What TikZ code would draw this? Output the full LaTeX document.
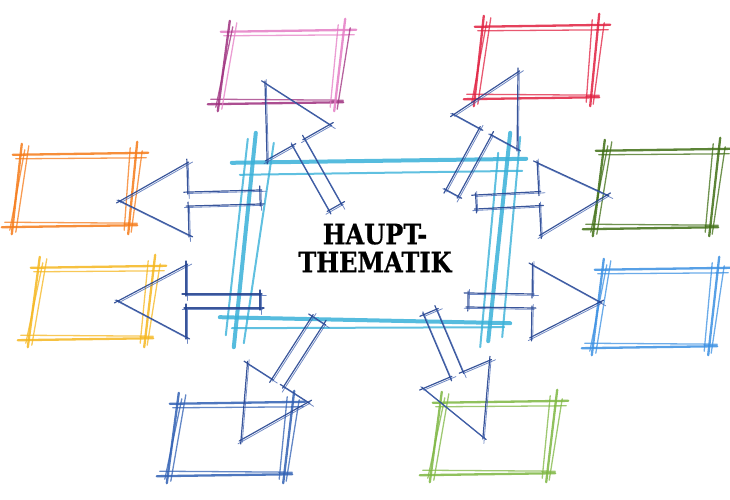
\documentclass[tikz,border=0pt]{standalone}
\usepackage{fontspec}
\usetikzlibrary{calc}
\newfontfamily\hfont{DejaVu Serif}[FakeStretch=0.86,FakeBold=0.6]
\definecolor{pinkA}{HTML}{E47CC4}
\definecolor{pinkB}{HTML}{9E2F7E}
\definecolor{redA}{HTML}{E02040}
\definecolor{orangeA}{HTML}{F57A18}
\definecolor{yellowA}{HTML}{F5B61E}
\definecolor{dkgreenA}{HTML}{3F6E14}
\definecolor{blueA}{HTML}{3A8FE2}
\definecolor{dkblueA}{HTML}{2F5FB3}
\definecolor{greenA}{HTML}{7DB641}
\definecolor{cyanA}{HTML}{38B0D8}
\definecolor{navyA}{HTML}{24438F}
\definecolor{navyB}{HTML}{4263B0}
\tikzset{
  boxnode/.style={rectangle, inner sep=0pt, minimum width=116pt, minimum height=72pt},
  bx/.style={draw=#1, line width=2.3pt, opacity=.85, line cap=round},
  bxt/.style={draw=#1, line width=1.3pt, opacity=.75, line cap=round},
  cx/.style={draw=cyanA, line width=4pt, opacity=.85, line cap=round},
  cxt/.style={draw=cyanA, line width=2pt, opacity=.8, line cap=round},
  arr/.style={draw=navyA, line width=1.2pt, opacity=.9, line cap=round},
  arrt/.style={draw=navyB, line width=.8pt, opacity=.75, line cap=round},
}
% sketchy box around a node
\newcommand\skbox[4]{% name, colour top/right, colour bottom/left, slant
  \coordinate (#1TL) at ($(#1.north west)+(#4,0)$);
  \coordinate (#1TR) at ($(#1.north east)+(#4,0)$);
  \coordinate (#1BL) at ($(#1.south west)+(-#4,0)$);
  \coordinate (#1BR) at ($(#1.south east)+(-#4,0)$);
  \draw[bx=#2] ($(#1TL)+(-9,1)$) -- ($(#1TR)+(10,-1)$);
  \draw[bxt=#2] ($(#1TL)+(-6,5)$) -- ($(#1TR)+(8,4)$);
  \draw[bx=#3] ($(#1BL)+(-10,1)$) -- ($(#1BR)+(9,-1)$);
  \draw[bxt=#3] ($(#1BL)+(-7,-4)$) -- ($(#1BR)+(9,-3)$);
  \draw[bx=#3] ($(#1TL)+(0,-10)$) -- ($(#1BL)+(0,8)$);
  \draw[bxt=#2] ($(#1TL)+(7,-8)$) -- ($(#1BL)+(4,6)$);
  \draw[bxt=#3] ($(#1TL)+(3,-4)$) -- ($(#1BL)+(-2,4)$);
  \draw[bx=#2] ($(#1TR)+(-1,-12)$) -- ($(#1BR)+(0,8)$);
  \draw[bxt=#2] ($(#1TR)+(-8,-6)$) -- ($(#1BR)+(-4,4)$);
  \draw[bxt=#3] ($(#1TR)+(4,-3)$) -- ($(#1BR)+(3,6)$);
}
% one sketchy edge of an arrow
\newcommand\skedge[2]{%
  \draw[arr] ($(#1)!-4pt!(#2)$) -- ($(#2)!-2pt!(#1)$);
  \draw[arrt] ($(#1)!-1pt!(#2)+(1.3,1.4)$) -- ($(#2)!-5pt!(#1)+(1.3,1.4)$);
}
% sketchy block arrow from tail #1 to tip #2, id #3
\newcommand\skarrow[3]{%
  \coordinate (#3c) at ($(#2)!68pt!(#1)$);
  \coordinate (#3a1) at ($(#1)!7pt!90:(#2)$);
  \coordinate (#3a6) at ($(#1)!7pt!-90:(#2)$);
  \coordinate (#3a2) at ($(#3c)!7pt!90:(#2)$);
  \coordinate (#3a5) at ($(#3c)!7pt!-90:(#2)$);
  \coordinate (#3a3) at ($(#3c)!36pt!90:(#2)$);
  \coordinate (#3a4) at ($(#3c)!36pt!-90:(#2)$);
  \skedge{#3a1}{#3a2}
  \skedge{#3a2}{#3a3}
  \skedge{#3a3}{#2}
  \skedge{#2}{#3a4}
  \skedge{#3a4}{#3a5}
  \skedge{#3a5}{#3a6}
  \skedge{#3a6}{#3a1}
}
\begin{document}
\begin{tikzpicture}[x=1pt,y=-1pt]
\useasboundingbox (0,0) rectangle (730,500);
% nodes
\node[rectangle, inner sep=0pt, minimum width=258pt, minimum height=158pt] (main) at (375,242) {};
\node[font=\hfont\bfseries\fontsize{28}{28}\selectfont, align=center, inner sep=0pt] (title) at (375,248) {HAUPT-\\THEMATIK};
\node[boxnode] (pink) at (282,67) {};
\node[boxnode] (red) at (537,62) {};
\node[boxnode] (orange) at (75,190) {};
\node[boxnode] (yellow) at (92,303) {};
\node[boxnode, minimum height=78pt] (dkgreen) at (657,189) {};
\node[boxnode, minimum height=78pt] (blue) at (656,308) {};
\node[boxnode] (dkblue) at (231,439) {};
\node[boxnode] (green) at (494,438) {};
% boxes
\skbox{pink}{pinkA}{pinkB}{6}
\skbox{red}{redA}{redA}{5}
\skbox{orange}{orangeA}{orangeA}{5}
\skbox{yellow}{yellowA}{yellowA}{6}
\skbox{dkgreen}{dkgreenA}{dkgreenA}{6}
\skbox{blue}{blueA}{blueA}{6}
\skbox{dkblue}{dkblueA}{dkblueA}{6}
\skbox{green}{greenA}{greenA}{6}
% central box
\coordinate (mTL) at ($(main.north west)+(8,0)$);
\coordinate (mTR) at ($(main.north east)+(10,0)$);
\coordinate (mBL) at ($(main.south west)+(-8,0)$);
\coordinate (mBR) at ($(main.south east)+(-10,0)$);
\draw[cx] ($(mTL)+(-22,0)$) -- ($(mTR)+(12,-4)$);
\draw[cxt] ($(mTL)+(-14,12)$) -- ($(mTR)+(8,8)$);
\draw[cx] ($(mBL)+(-18,-4)$) -- ($(mBR)+(16,2)$);
\draw[cxt] ($(mBL)+(-6,7)$) -- ($(mBR)+(10,6)$);
\draw[cx] ($(mTL)+(2,-30)$) -- ($(mBL)+(-4,26)$);
\draw[cxt] ($(mTL)+(20,-20)$) -- ($(mBL)+(6,22)$);
\draw[cxt] ($(mTL)+(-6,-24)$) -- ($(mBL)+(-12,14)$);
\draw[cx] ($(mTR)+(-4,-30)$) -- ($(mBR)+(-6,20)$);
\draw[cxt] ($(mTR)+(6,-26)$) -- ($(mBR)+(8,16)$);
\draw[cxt] ($(mTR)+(-16,-10)$) -- ($(mBR)+(-14,26)$);
% arrow ends
\coordinate (tPink) at (335,207);   \coordinate (hPink) at (265,83);
\coordinate (tRed) at (452,193);    \coordinate (hRed) at (518,72);
\coordinate (tOrange) at (260,197); \coordinate (hOrange) at (120,201);
\coordinate (tYellow) at (260,301); \coordinate (hYellow) at (118,301);
\coordinate (tDkgreen) at (476,202);\coordinate (hDkgreen) at (607,195);
\coordinate (tBlue) at (468,300);   \coordinate (hBlue) at (600,302);
\coordinate (tDkblue) at (318,320); \coordinate (hDkblue) at (241,440);
\coordinate (tGreen) at (430,312);  \coordinate (hGreen) at (483,437);
% arrows
\skarrow{tPink}{hPink}{ap}
\skarrow{tRed}{hRed}{ar}
\skarrow{tOrange}{hOrange}{ao}
\skarrow{tYellow}{hYellow}{ay}
\skarrow{tDkgreen}{hDkgreen}{ag}
\skarrow{tBlue}{hBlue}{ab}
\skarrow{tDkblue}{hDkblue}{ad}
\skarrow{tGreen}{hGreen}{an}
\end{tikzpicture}
\end{document}
